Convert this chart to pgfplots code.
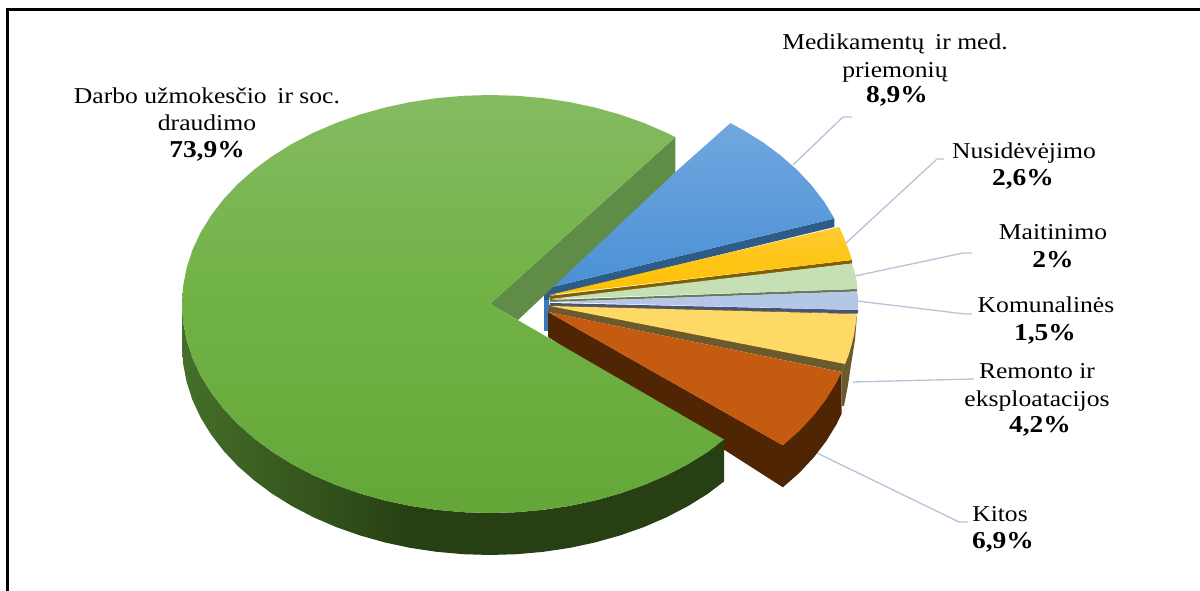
\documentclass[border=0pt]{standalone}
\usepackage{fontspec}
\setmainfont{Liberation Serif}
\usepackage{graphicx}
\usepackage{pgfplots}
\pgfplotsset{compat=1.18}
\definecolor{leader}{HTML}{B7C4D8}
\definecolor{wallA}{HTML}{5C933B}
\definecolor{wallB}{HTML}{274013}
\definecolor{gTop}{HTML}{84BB61}
\definecolor{gMid}{HTML}{70B245}
\definecolor{gBot}{HTML}{65A638}
\definecolor{bTop}{HTML}{71A7DE}
\definecolor{bBot}{HTML}{4A90D6}
\definecolor{bWall}{HTML}{2F5C87}
\definecolor{bStrip}{HTML}{3A78B8}
\definecolor{yTop}{HTML}{FFCB2E}
\definecolor{yBot}{HTML}{FFC000}
\definecolor{yWall}{HTML}{7F6000}
\definecolor{lgreen}{HTML}{C5E0B4}
\definecolor{lgWall}{HTML}{6A7A5C}
\definecolor{lblue}{HTML}{B4C7E7}
\definecolor{lbWall}{HTML}{475676}
\definecolor{pale}{HTML}{FFD966}
\definecolor{paleWall}{HTML}{6B5A2C}
\definecolor{orange1}{HTML}{C55A11}
\definecolor{orWall}{HTML}{4F2504}
\definecolor{cutWall}{HTML}{5F8D48}
\pgfdeclarehorizontalshading{greenwall}{100bp}{color(0bp)=(wallA); color(20bp)=(wallA!70!wallB); color(46bp)=(wallB); color(100bp)=(wallB)}
\newcommand\T[1]{\scalebox{1.13}[1]{\fontsize{17}{20}\selectfont #1}}
\newcommand\B[1]{\scalebox{1.13}[1]{\fontsize{18.2}{20}\selectfont\bfseries #1}}
\begin{document}
\begin{tikzpicture}
\begin{axis}[
  scale only axis, width=900pt, height=443.25pt,
  xmin=0, xmax=1200, ymin=0, ymax=591, y dir=reverse,
  hide axis, clip=true, no markers,
]
% page extent
\addplot[draw=none] coordinates {(0,0) (1200,591)};
% frame
\addplot[black, line width=2.2pt] coordinates {(7.5,591) (7.5,9.7) (1200,9.7)};
% leader lines
\addplot[leader, line width=1pt] coordinates {(793,165) (843,117) (852,117)};
\addplot[leader, line width=1pt] coordinates {(846,243) (937,159) (944,159)};
\addplot[leader, line width=1pt] coordinates {(855,276) (963,253) (972,253)};
\addplot[leader, line width=1pt] coordinates {(857,301) (965,314) (972,314)};
\addplot[leader, line width=1pt] coordinates {(853,382) (974,379)};
\addplot[leader, line width=1pt] coordinates {(817,453) (959,522) (968,522)};
% blue slice, 8.9
\addplot[fill=bStrip, draw=none] coordinates {(544,296) (549,296) (549,312) (548,331) (544,331)};
\addplot[fill=bWall, draw=none] coordinates {(544,289) (834.4,218.5) (834.4,227) (549,296) (549,300) (544,300)};
\addplot[draw=none, top color=bTop, bottom color=bBot] coordinates {(544,289) (730.4,123.1) (743,129.9) (762.8,142.2) (780.9,155.7) (797.3,170.1) (811.7,185.5) (824.1,201.7) (834.4,218.5)};
% gold slice, 2.6
\addplot[fill=yWall, draw=none] coordinates {(549,296) (852,260) (852,263.5) (550,300)};
\addplot[draw=none, top color=yTop, bottom color=yBot] coordinates {(549,295) (839,227) (843,235) (846,243) (849,251) (852,260)};
% light green slice, 2
\addplot[fill=lgWall, draw=none] coordinates {(550,300) (857,289) (857,291.5) (550,302)};
\addplot[fill=lgreen, draw=none] coordinates {(550,299) (852,263.5) (855,273) (857,283) (857,289)};
% light blue slice, 1.5
\addplot[fill=lbWall, draw=none] coordinates {(550,303) (858,310) (858,313.5) (550,306)};
\addplot[fill=lblue, draw=none] coordinates {(550,302) (857,291.5) (858,296) (858.3,301) (858,306) (858,310)};
% pale yellow slice, 4.2
\addplot[fill=paleWall, draw=none] coordinates {(857,315) (855,340) (851,365) (848,385) (844,406) (842,406) (842,372) (845,364) (852,343) (856,315)};
\addplot[fill=paleWall, draw=none] coordinates {(549,305) (857,313.5) (845,364) (842,372) (548,312)};
\addplot[fill=pale, draw=none] coordinates {(550,306) (857,314) (856,322) (854,335) (852,343) (849,354) (845,364)};
% orange slice, 6.9
\addplot[fill=orWall, draw=none] coordinates {(548,312) (548,337) (782.9,487.3) (799.3,472.9) (813.7,457.5) (826.1,441.3) (836.4,424.5) (841.5,414) (841.5,372) (782.9,445.3)};
\addplot[fill=orange1, draw=none] coordinates {(548,312) (841.5,372) (836.4,382.5) (826.1,399.3) (813.7,415.5) (799.3,430.9) (782.9,445.3)};
% green slice, 73.9
\addplot[fill=cutWall, draw=none] coordinates {(490,304) (675.4,137.1) (675.4,172) (518,320)};
\addplot[draw=none, shading=greenwall] coordinates {
(182,304) (183.2,322.2) (186.7,340.3) (192.5,358.1) (200.6,375.5) (210.9,392.3) (223.3,408.5) (237.7,423.9) (254.1,438.3) (272.2,451.8) (292,464.1) (313.3,475.2) (336,485) (359.8,493.4) (384.7,500.4) (410.3,505.9) (436.5,509.8) (463.2,512.2) (490,513) (516.8,512.2) (543.5,509.8) (569.7,505.9) (595.3,500.4) (620.2,493.4) (644,485) (666.7,475.2) (688,464.1) (707.8,451.8) (724,439.5)
(724,481.5) (707.8,493.8) (688,506.1) (666.7,517.2) (644,527) (620.2,535.4) (595.3,542.4) (569.7,547.9) (543.5,551.8) (516.8,554.2) (490,555) (463.2,554.2) (436.5,551.8) (410.3,547.9) (384.7,542.4) (359.8,535.4) (336,527) (313.3,517.2) (292,506.1) (272.2,493.8) (254.1,480.3) (237.7,465.9) (223.3,450.5) (210.9,434.3) (200.6,417.5) (192.5,400.1) (186.7,382.3) (183.2,364.2) (182,346)};
\addplot[draw=none, top color=gTop, bottom color=gBot, middle color=gMid] coordinates {
(490,304) (675.4,137.1) (666.7,132.8) (644,123) (620.2,114.6) (595.3,107.6) (569.7,102.1) (543.5,98.2) (516.8,95.8) (490,95) (463.2,95.8) (436.5,98.2) (410.3,102.1) (384.7,107.6) (359.8,114.6) (336,123) (313.3,132.8) (292,143.9) (272.2,156.2) (254.1,169.7) (237.7,184.1) (223.3,199.5) (210.9,215.7) (200.6,232.5) (192.5,249.9) (186.7,267.7) (183.2,285.8) (182,304)
(183.2,322.2) (186.7,340.3) (192.5,358.1) (200.6,375.5) (210.9,392.3) (223.3,408.5) (237.7,423.9) (254.1,438.3) (272.2,451.8) (292,464.1) (313.3,475.2) (336,485) (359.8,493.4) (384.7,500.4) (410.3,505.9) (436.5,509.8) (463.2,512.2) (490,513) (516.8,512.2) (543.5,509.8) (569.7,505.9) (595.3,500.4) (620.2,493.4) (644,485) (666.7,475.2) (688,464.1) (707.8,451.8) (724,439.5)};
% labels
\node[anchor=base, inner sep=0pt] at (axis cs:895,50) {\T{Medikamentų\, ir med.}};
\node[anchor=base, inner sep=0pt] at (axis cs:895,78) {\T{priemonių}};
\node[anchor=base, inner sep=0pt] at (axis cs:897,103) {\B{8,9\%}};
\node[anchor=base, inner sep=0pt] at (axis cs:1024,159) {\T{Nusidėvėjimo}};
\node[anchor=base, inner sep=0pt] at (axis cs:1023,186) {\B{2,6\%}};
\node[anchor=base, inner sep=0pt] at (axis cs:1053,240) {\T{Maitinimo}};
\node[anchor=base, inner sep=0pt] at (axis cs:1053,268) {\B{2\%}};
\node[anchor=base, inner sep=0pt] at (axis cs:1046,313) {\T{Komunalinės}};
\node[anchor=base, inner sep=0pt] at (axis cs:1045,341) {\B{1,5\%}};
\node[anchor=base, inner sep=0pt] at (axis cs:1037,379) {\T{Remonto ir}};
\node[anchor=base, inner sep=0pt] at (axis cs:1037,407) {\T{eksploatacijos}};
\node[anchor=base, inner sep=0pt] at (axis cs:1040,433) {\B{4,2\%}};
\node[anchor=base, inner sep=0pt] at (axis cs:1000,522) {\T{Kitos}};
\node[anchor=base, inner sep=0pt] at (axis cs:1003,548) {\B{6,9\%}};
\node[anchor=base, inner sep=0pt] at (axis cs:207,104) {\T{Darbo užmokesčio\, ir soc.}};
\node[anchor=base, inner sep=0pt] at (axis cs:207,131) {\T{draudimo}};
\node[anchor=base, inner sep=0pt] at (axis cs:207,158) {\B{73,9\%}};
\end{axis}
\end{tikzpicture}
\end{document}
